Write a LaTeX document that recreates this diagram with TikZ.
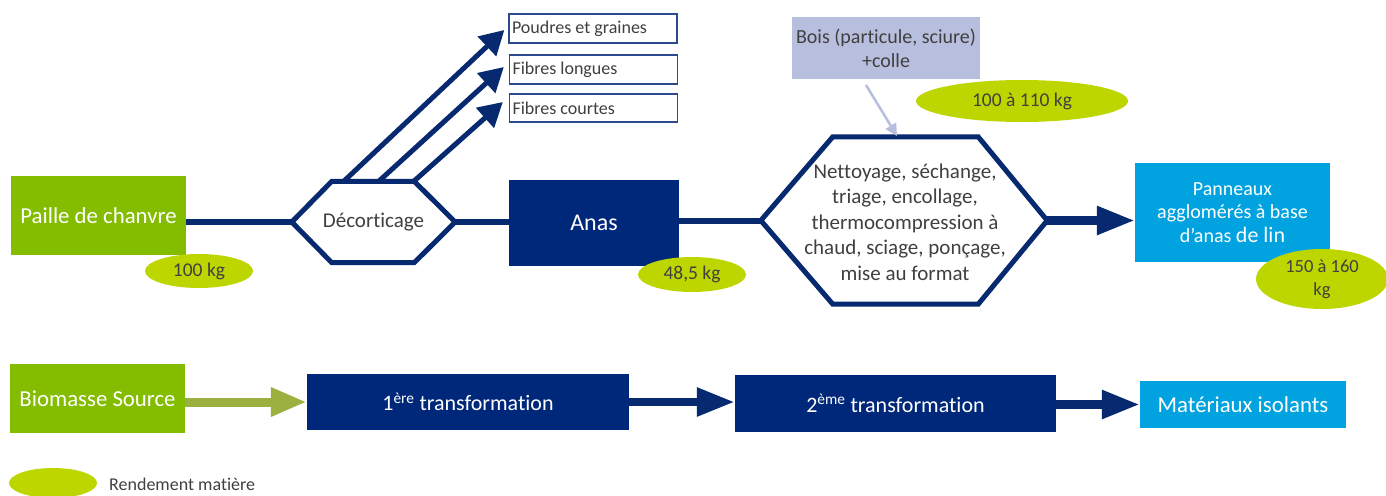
\documentclass[tikz,border=0pt]{standalone}
\usepackage{fontspec}
\setmainfont[Ligatures=NoCommon]{Carlito}
\usetikzlibrary{arrows.meta,calc,shapes.geometric}
\definecolor{navy}{HTML}{06296F}
\definecolor{navyfill}{HTML}{00287A}
\definecolor{grn}{HTML}{84BC00}
\definecolor{limeell}{HTML}{BED600}
\definecolor{skyb}{HTML}{00A3E0}
\definecolor{lav}{HTML}{B8BEDD}
\definecolor{olive}{HTML}{9AB03F}
\definecolor{txtgray}{HTML}{404040}
\definecolor{boxline}{HTML}{2C4A8E}
\tikzset{
  blk/.style={rectangle, inner sep=0pt, align=center},
  greenbox/.style={blk, fill=grn, text=white, font=\fontsize{22.8}{26}\selectfont},
  navybox/.style={blk, fill=navyfill, text=white, font=\fontsize{22}{26}\selectfont},
  bluebox/.style={blk, fill=skyb, text=white},
  outbox/.style={blk, draw=boxline, line width=1.3pt, text=txtgray, font=\fontsize{18}{20}\selectfont, align=flush left, text width=162pt, inner xsep=3pt},
  yield/.style={ellipse, fill=limeell, inner sep=0pt, text=txtgray, font=\fontsize{19.5}{22}\selectfont, align=center},
  hexlbl/.style={blk, text=txtgray},
  hexline/.style={draw=navy, line width=5pt, fill=white, line join=miter},
  link/.style={draw=navy, line width=6pt},
  thinarrow/.style={draw=navy, line width=5pt, -{Triangle[length=24pt,width=26pt]}},
  bigarrow/.style={draw=navy, line width=8.5pt, -{Triangle[length=38pt,width=27pt]}},
}
\begin{document}
\begin{tikzpicture}[x=1pt,y=-1pt]
\clip (0,0) rectangle (1386,495);
\fill[white] (0,0) rectangle (1386,495);

% top row
\node[greenbox, minimum width=175pt, minimum height=79pt] (paille) at (98.5,215.5) {Paille de chanvre};
\node[yield, minimum width=108pt, minimum height=34pt] (y1) at (199,271) {100 kg};

\node[blk, minimum width=163pt, minimum height=81pt] (dec) at (373.5,222) {};
\draw[hexline] (dec.west) -- ($(dec.north west)+(40,0)$) coordinate (dtl) -- ($(dec.north east)+(-41,0)$) coordinate (dtr)
  -- (dec.east) -- ($(dec.south east)+(-41,0)$) -- ($(dec.south west)+(40,0)$) -- cycle;
\node[hexlbl, font=\fontsize{21}{24}\selectfont] at (dec.center) {Décorticage};

\node[navybox, minimum width=170pt, minimum height=86pt, font=\fontsize{24}{26}\selectfont] (anas) at (594,223) {Anas};

\node[blk, minimum width=286pt, minimum height=167pt] (proc) at (904,220.5) {};
\draw[hexline] (proc.west) -- ($(proc.north west)+(72,0)$) -- ($(proc.north east)+(-69,0)$)
  -- (proc.east) -- ($(proc.south east)+(-69,0)$) -- ($(proc.south west)+(72,0)$) -- cycle;
\node[hexlbl, font=\fontsize{21}{25.5}\selectfont] at (905,222) {Nettoyage, séchange,\\triage, encollage,\\thermocompression à\\chaud, sciage, ponçage,\\mise au format};

\node[blk, fill=lav, text=txtgray, minimum width=188pt, minimum height=62pt, font=\fontsize{20}{24}\selectfont] (bois) at (886,48) {Bois (particule, sciure)\\+colle};
\node[yield, minimum width=212pt, minimum height=42pt] (y3) at (1022,101) {100 à 110 kg};

\node[bluebox, minimum width=195pt, minimum height=99pt, font=\fontsize{20}{23.5}\selectfont] (pan) at (1232.5,212.5) {Panneaux\\agglomérés à base\\d'anas {\fontsize{22}{23.5}\selectfont de lin}};
\node[yield, minimum width=132pt, minimum height=60pt, font=\fontsize{18.5}{23}\selectfont] (y4) at (1322,279) {150 à 160\\kg};

\node[outbox, minimum height=29pt] (poudres) at (593,28.5) {Poudres et graines};
\node[outbox, minimum height=29pt] (flong) at (593.5,69.5) {Fibres longues};
\node[outbox, minimum height=28pt] (fcourt) at (593.5,108) {Fibres courtes};

% connectors top row
\draw[link] (paille.east |- dec.west) -- (dec.west);
\draw[link] (dec.east) -- (dec.east -| anas.west);
\draw[link] (anas.east |- proc.west) -- (proc.west);
\draw[bigarrow] (proc.east) -- (proc.east -| pan.west);

\node[yield, minimum width=108pt, minimum height=35pt] (y2) at (692,274.5) {48,5 kg};

\coordinate (s1) at (343,182);
\coordinate (s2) at (378,182);
\coordinate (s3) at (413,182);
\draw[thinarrow] (s1) -- ($(poudres.west)+(-4,1.5)$);
\draw[thinarrow] (s2) -- ($(flong.west)+(-5,-2.5)$);
\draw[thinarrow] (s3) -- ($(fcourt.west)+(-6,-6)$);

\coordinate (bs) at (866,85);
\coordinate (be) at (897,136);
\draw[draw=lav, line width=2.5pt, -{Triangle[length=12pt,width=12pt]}] (bs) -- (be);

% bottom row
\node[greenbox, minimum width=175pt, minimum height=69pt] (bio) at (97.5,398.5) {Biomasse Source};
\node[navybox, minimum width=322pt, minimum height=56pt] (t1) at (468,402) {1\textsuperscript{ère} transformation};
\node[navybox, minimum width=321pt, minimum height=57pt] (t2) at (895.5,403.5) {2\textsuperscript{ème} transformation};
\node[bluebox, minimum width=206pt, minimum height=47pt, font=\fontsize{22.8}{25}\selectfont] (mat) at (1243,404.5) {Matériaux isolants};

\draw[draw=olive, line width=9pt, -{Triangle[length=36pt,width=27pt]}] (bio.east |- t1.west) -- (t1.west);
\draw[bigarrow] (t1.east) -- (t1.east -| t2.west);
\draw[bigarrow] (t2.east |- mat.west) -- (mat.west);

% legend
\node[yield, minimum width=88pt, minimum height=30pt] (leg) at (53,483) {};
\node[anchor=west, text=txtgray, font=\fontsize{18}{20}\selectfont, inner sep=0pt] (legt) at (109,484) {Rendement matière};
\end{tikzpicture}
\end{document}
